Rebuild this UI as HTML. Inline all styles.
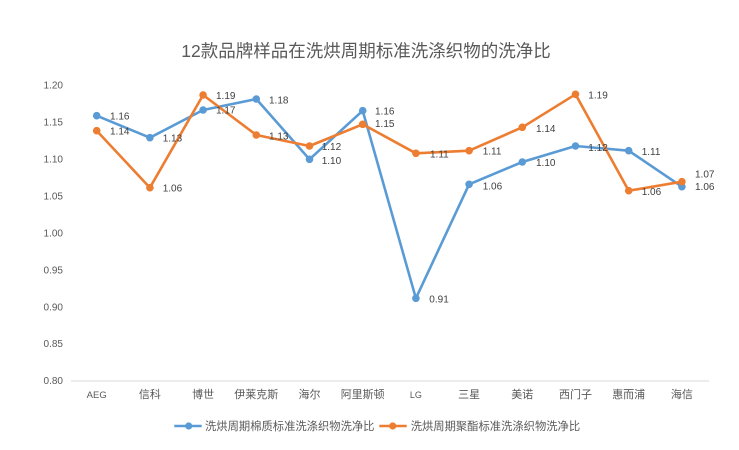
<!DOCTYPE html>
<html><head><meta charset="utf-8"><style>
html,body{margin:0;padding:0;background:#fff;}
svg{display:block;}
text{font-family:"Liberation Sans","Noto Sans CJK SC",sans-serif;}
</style></head><body>
<svg width="739" height="450" viewBox="0 0 739 450" xmlns="http://www.w3.org/2000/svg">
<rect width="739" height="450" fill="#fff"/>
<text x="366" y="57" font-size="17.5" fill="#595959" text-anchor="middle">12款品牌样品在洗烘周期标准洗涤织物的洗净比</text>
<g font-size="10" fill="#595959" text-anchor="end">
<text x="63" y="88.5">1.20</text>
<text x="63" y="125.5">1.15</text>
<text x="63" y="162.5">1.10</text>
<text x="63" y="199.5">1.05</text>
<text x="63" y="236.5">1.00</text>
<text x="63" y="273.4">0.95</text>
<text x="63" y="310.3">0.90</text>
<text x="63" y="347.2">0.85</text>
<text x="63" y="384.2">0.80</text>
</g>
<line x1="71" y1="381" x2="709" y2="381" stroke="#d9d9d9" stroke-width="1"/>
<g font-size="11" fill="#595959" text-anchor="middle">
<text x="96.7" y="398" font-size="9.5">AEG</text>
<text x="149.9" y="398">信科</text>
<text x="203.1" y="398">博世</text>
<text x="256.3" y="398">伊莱克斯</text>
<text x="309.5" y="398">海尔</text>
<text x="362.7" y="398">阿里斯顿</text>
<text x="415.9" y="398" font-size="9">LG</text>
<text x="469.1" y="398">三星</text>
<text x="522.3" y="398">美诺</text>
<text x="575.5" y="398">西门子</text>
<text x="628.7" y="398">惠而浦</text>
<text x="681.9" y="398">海信</text>
</g>
<g fill="none" stroke-width="2.6" stroke-linejoin="round">
<polyline stroke="#5B9BD5" points="96.7,115.7 149.9,137.7 203.1,110 256.3,99 309.5,159.3 362.7,110.7 415.9,298.3 469.1,184.3 522.3,162 575.5,146 628.7,150.7 681.9,186.7"/>
<polyline stroke="#ED7D31" points="96.7,130.7 149.9,187.7 203.1,95 256.3,135 309.5,146 362.7,124.3 415.9,153.3 469.1,150.7 522.3,127.3 575.5,94.3 628.7,190.7 681.9,181.7"/>
</g>
<g fill="#5B9BD5">
<circle cx="96.7" cy="115.7" r="3.8"/><circle cx="149.9" cy="137.7" r="3.8"/><circle cx="203.1" cy="110" r="3.8"/><circle cx="256.3" cy="99" r="3.8"/><circle cx="309.5" cy="159.3" r="3.8"/><circle cx="362.7" cy="110.7" r="3.8"/><circle cx="415.9" cy="298.3" r="3.8"/><circle cx="469.1" cy="184.3" r="3.8"/><circle cx="522.3" cy="162" r="3.8"/><circle cx="575.5" cy="146" r="3.8"/><circle cx="628.7" cy="150.7" r="3.8"/><circle cx="681.9" cy="186.7" r="3.8"/>
</g>
<g fill="#ED7D31">
<circle cx="96.7" cy="130.7" r="3.8"/><circle cx="149.9" cy="187.7" r="3.8"/><circle cx="203.1" cy="95" r="3.8"/><circle cx="256.3" cy="135" r="3.8"/><circle cx="309.5" cy="146" r="3.8"/><circle cx="362.7" cy="124.3" r="3.8"/><circle cx="415.9" cy="153.3" r="3.8"/><circle cx="469.1" cy="150.7" r="3.8"/><circle cx="522.3" cy="127.3" r="3.8"/><circle cx="575.5" cy="94.3" r="3.8"/><circle cx="628.7" cy="190.7" r="3.8"/><circle cx="681.9" cy="181.7" r="3.8"/>
</g>
<g font-size="10" fill="#404040">
<text x="110" y="119.5">1.16</text>
<text x="110" y="134.5">1.14</text>
<text x="162.7" y="141.5">1.13</text>
<text x="162.7" y="191.5">1.06</text>
<text x="216" y="99.2">1.19</text>
<text x="216" y="113.5">1.17</text>
<text x="269" y="103.5">1.18</text>
<text x="269" y="139.5">1.13</text>
<text x="321.7" y="150.2">1.12</text>
<text x="321.7" y="164.2">1.10</text>
<text x="375" y="114.5">1.16</text>
<text x="375" y="127.2">1.15</text>
<text x="430" y="157.5">1.11</text>
<text x="429.3" y="302.5">0.91</text>
<text x="482.7" y="154.5">1.11</text>
<text x="482.7" y="189.5">1.06</text>
<text x="536" y="131.8">1.14</text>
<text x="536" y="166.2">1.10</text>
<text x="588.3" y="98.5">1.19</text>
<text x="588.3" y="150.8">1.12</text>
<text x="641.7" y="154.8">1.11</text>
<text x="641.7" y="194.8">1.06</text>
<text x="695" y="177.5">1.07</text>
<text x="695" y="190.2">1.06</text>
</g>
<line x1="174.3" y1="426" x2="201.7" y2="426" stroke="#5B9BD5" stroke-width="2.6"/>
<circle cx="188.7" cy="426" r="3.6" fill="#5B9BD5"/>
<text x="205" y="430" font-size="11.3" fill="#595959">洗烘周期棉质标准洗涤织物洗净比</text>
<line x1="379.3" y1="426" x2="406.7" y2="426" stroke="#ED7D31" stroke-width="2.6"/>
<circle cx="392.7" cy="426" r="3.6" fill="#ED7D31"/>
<text x="410.7" y="430" font-size="11.3" fill="#595959">洗烘周期聚酯标准洗涤织物洗净比</text>
</svg>
</body></html>
